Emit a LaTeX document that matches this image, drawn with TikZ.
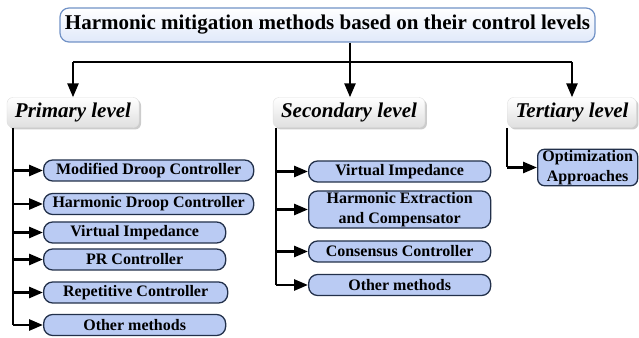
\documentclass[tikz,border=0pt]{standalone}
\usepackage{fontspec}
\setmainfont{Liberation Serif}
\usetikzlibrary{arrows.meta, shadows}

\definecolor{titleline}{HTML}{7192C6}
\definecolor{titlefill}{HTML}{E0E9FA}
\definecolor{methodfill}{HTML}{BACBF3}
\definecolor{methodline}{HTML}{22304A}

\begin{document}
\begin{tikzpicture}[x=1pt, y=1pt,
  arr/.style={line width=2.6pt, -{Triangle[length=14pt,width=11pt]}},
  trunk/.style={line width=2.6pt},
  headbox/.style={draw=titleline, line width=1.2pt, rounded corners=9pt, top color=white, bottom color=titlefill, minimum width=535pt, minimum height=34pt, inner sep=0pt, font=\bfseries\fontsize{21}{24}\selectfont},
  levelbox/.style={draw=gray!25, rounded corners=6pt, top color=white, bottom color=gray!25, drop shadow={shadow xshift=2pt, shadow yshift=-2pt, opacity=0.4}, minimum height=30pt, inner xsep=8pt, inner ysep=0pt, font=\bfseries\itshape\fontsize{21}{24}\selectfont},
  method/.style={draw=methodline, line width=1.3pt, fill=methodfill, rounded corners=9pt, anchor=west, minimum width=182pt, minimum height=21pt, inner xsep=4pt, inner ysep=1pt, align=center, font=\bfseries\fontsize{16}{20}\selectfont},
  wide/.style={minimum width=210pt}]

\useasboundingbox (0,0) rectangle (639,337);

\node[headbox] (title) at (327.5,312) {Harmonic mitigation methods based on their control levels};

\node[levelbox] (prim) at (73,224.5) {Primary level};
\node[levelbox] (sec) at (349,224.5) {Secondary level};
\node[levelbox] (ter) at (572,224.5) {Tertiary level};

\coordinate (bus) at (350,275);
\draw[trunk] (bus -| prim.north) -- (bus -| ter.north);
\draw[arr] (bus -| prim.north) -- (prim.north);
\draw[arr] (bus -| ter.north) -- (ter.north);
\draw[arr] (title.south -| bus) -- (bus |- sec.north);

% primary level
\node[method, wide] (p1) at (43,166.5) {Modified Droop Controller};
\node[method, wide] (p2) at (43,133) {Harmonic Droop Controller};
\node[method] (p3) at (43,104.5) {Virtual Impedance};
\node[method] (p4) at (43,77.5) {PR Controller};
\node[method, minimum width=184pt] (p5) at (43,44.5) {Repetitive Controller};
\node[method] (p6) at (43,12) {Other methods};

\coordinate (ptrunk) at (13,209);
\draw[trunk] (ptrunk) -- (ptrunk |- p6.west);
\foreach \m in {p1,p2,p3,p4,p5,p6}
  \draw[arr] (ptrunk |- \m.west) -- (\m.west);

% secondary level
\node[method] (s1) at (308,165.5) {Virtual Impedance};
\node[method, minimum height=37pt] (s2) at (308,127.5) {Harmonic Extraction\\and Compensator};
\node[method] (s3) at (308,85.5) {Consensus Controller};
\node[method] (s4) at (308,52) {Other methods};

\coordinate (strunk) at (276,209);
\draw[trunk] (strunk) -- (strunk |- s4.west);
\foreach \m in {s1,s2,s3,s4}
  \draw[arr] (strunk |- \m.west) -- (\m.west);

% tertiary level
\node[method, minimum width=100pt, rounded corners=7pt] (t1) at (537,169.5) {Optimization\\Approaches};

\coordinate (ttrunk) at (507,209);
\draw[trunk] (ttrunk) -- (ttrunk |- t1.west);
\draw[arr] (ttrunk |- t1.west) -- (t1.west);

\end{tikzpicture}
\end{document}
